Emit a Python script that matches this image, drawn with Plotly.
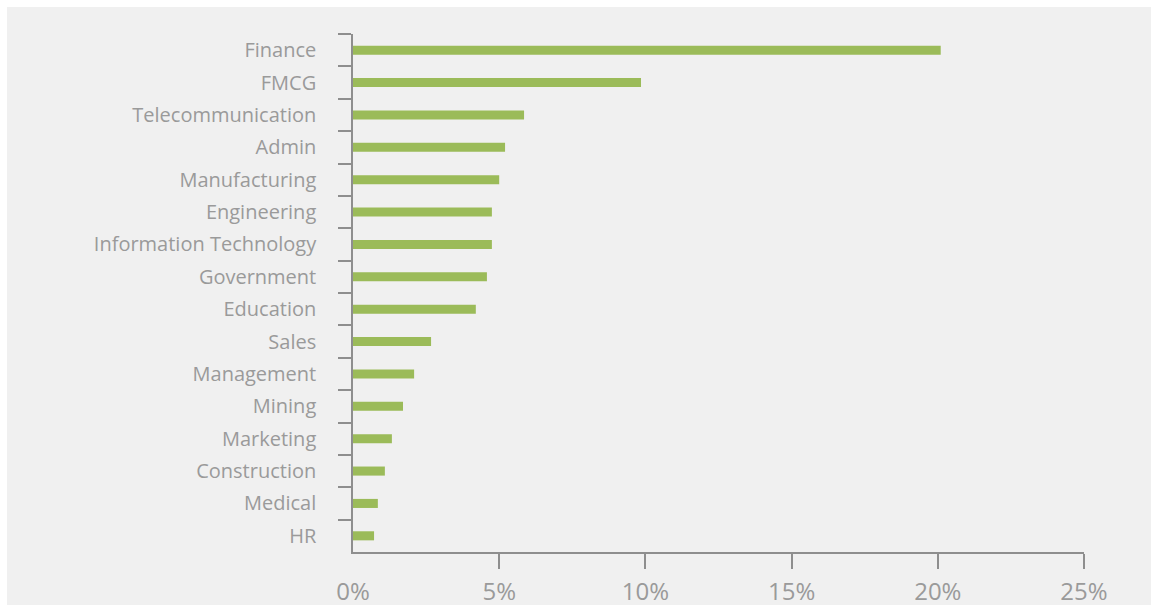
import plotly.graph_objects as go

# Share of respondents by sector (%)
sectors = [
    "Finance", "FMCG", "Telecommunication", "Admin", "Manufacturing",
    "Engineering", "Information Technology", "Government", "Education",
    "Sales", "Management", "Mining", "Marketing", "Construction",
    "Medical", "HR",
]
shares = [20.1, 9.85, 5.85, 5.2, 5.0, 4.75, 4.75, 4.58, 4.2,
          2.67, 2.09, 1.71, 1.33, 1.09, 0.85, 0.72]

x_tick_vals = [0, 5, 10, 15, 20, 25]
x_tick_text = ["0%", "5%", "10%", "15%", "20%", "25%"]

W, H = 1157, 611
ML, MR, MT, MB = 353, 73, 34, 59

BAR = "#9bbb59"
AXIS = "#8e8e8e"
LABEL = "#9a9a9a"
PANEL = "#f0f0f0"
FONT = "Open Sans"

fig = go.Figure(
    go.Bar(
        x=shares,
        y=sectors,
        orientation="h",
        marker=dict(color=BAR, line=dict(width=0)),
        width=0.28,
        hoverinfo="x+y",
    )
)

# light grey panel behind the chart, inset from the page edge
pw, ph = W - ML - MR, H - MT - MB
fig.add_shape(
    type="rect", xref="paper", yref="paper", layer="below",
    x0=(7 - ML) / pw, x1=(1151 - ML) / pw,
    y0=(H - MB - 605) / ph, y1=(H - MB - 7) / ph,
    fillcolor=PANEL, line=dict(width=0),
)

fig.update_layout(
    width=W, height=H,
    margin=dict(l=ML, r=MR, t=MT, b=MB, pad=0, autoexpand=False),
    paper_bgcolor="white",
    plot_bgcolor="rgba(0,0,0,0)",
    showlegend=False,
    font=dict(family=FONT, color=LABEL),
    xaxis=dict(
        range=[0, 25],
        tickvals=x_tick_vals,
        ticktext=x_tick_text,
        ticks="",
        ticklabelstandoff=17,
        tickfont=dict(size=24, color=LABEL, family=FONT),
        showgrid=False,
        zeroline=False,
        showline=True,
        linecolor=AXIS,
        linewidth=1.5,
        automargin=False,
        minor=dict(tickvals=[5, 10, 15, 20, 25], ticks="outside",
                   ticklen=15, tickcolor=AXIS, tickwidth=1.5),
        fixedrange=True,
    ),
    yaxis=dict(
        autorange="reversed",
        type="category",
        tickson="boundaries",
        ticks="outside",
        ticklen=13,
        tickwidth=1.5,
        tickcolor=AXIS,
        ticklabelstandoff=31,
        tickfont=dict(size=20, color=LABEL, family=FONT),
        showgrid=False,
        showline=True,
        linecolor=AXIS,
        linewidth=1.5,
        automargin=False,
        fixedrange=True,
    ),
)

fig.write_html("out.html")
